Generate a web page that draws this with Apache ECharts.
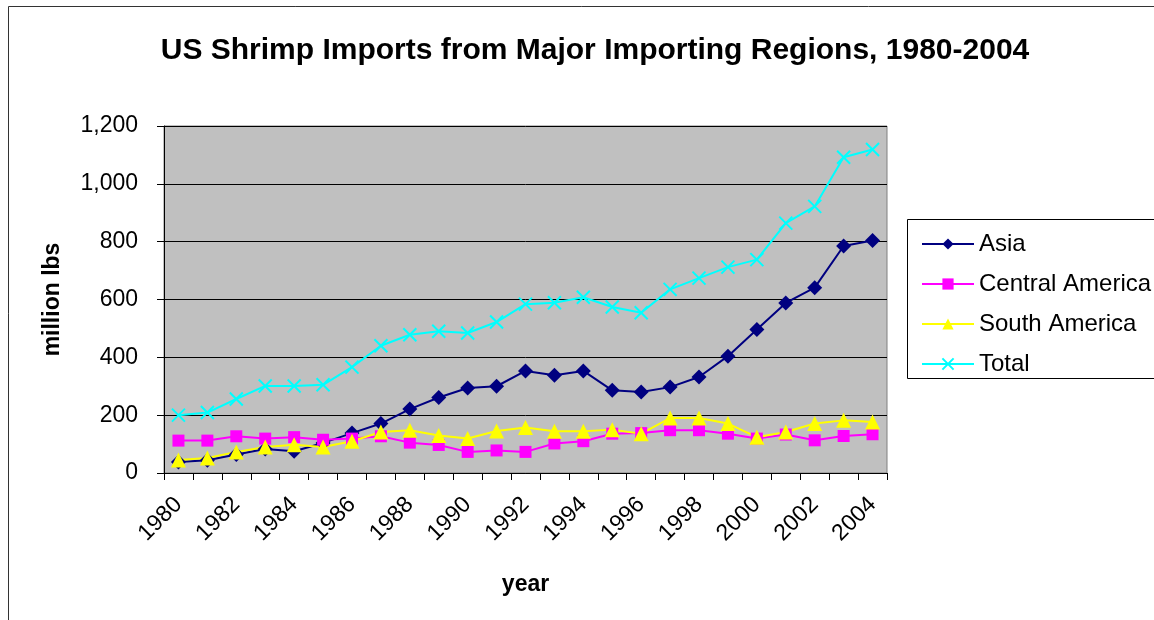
<!DOCTYPE html>
<html>
<head>
<meta charset="utf-8">
<script src="https://cdn.jsdelivr.net/npm/echarts@6/dist/echarts.min.js"></script>
<style>
html,body{margin:0;padding:0;background:#fff;}
#chart{width:1154px;height:620px;}
</style>
</head>
<body>
<div id="chart"></div>
<script>
const years = ['1980','1981','1982','1983','1984','1985','1986','1987','1988','1989','1990','1991','1992','1993','1994','1995','1996','1997','1998','1999','2000','2001','2002','2003','2004'];
const asia = [38,44,64,83,75,104,138,171,221,261,294,300,353,338,353,286,280,297,332,404,496,588,641,785,804];
const centralAmerica = [112,112,127,119,124,115,119,127,105,97,73,78,73,102,110,136,138,148,148,136,119,133,113,128,134];
const southAmerica = [45,52,73,90,98,90,110,142,148,130,119,145,157,144,144,150,136,190,190,171,124,142,171,182,176];
const total = [200,209,256,301,301,305,366,440,478,490,484,522,584,589,608,574,554,635,674,712,738,864,922,1092,1119];
const yTicks = [0,200,400,600,800,1000,1200];

const FONT = 'Liberation Sans, Arial, sans-serif';
const chart = echarts.init(document.getElementById('chart'), null, {renderer:'canvas'});
const crossPath = 'path://M0,0L10,10M10,0L0,10';

function mk(name, data, color, symbol, size, extra) {
  return Object.assign({
    name: name, type: 'line', data: data,
    symbol: symbol, symbolSize: size, showSymbol: true,
    lineStyle: {color: color, width: 2},
    itemStyle: {color: color, borderColor: color, borderWidth: 0, opacity: 1},
    emphasis: {disabled: true},
    animation: false
  }, extra || {});
}

chart.setOption({
  animation: false,
  backgroundColor: '#ffffff',
  title: {
    text: 'US Shrimp Imports from Major Importing Regions, 1980-2004',
    left: 590, top: 31, textAlign: 'center',
    textStyle: {fontFamily: FONT, fontWeight: 'bold', fontSize: 30, color: '#000'}
  },
  graphic: [
    {type: 'rect', shape: {x: 8.5, y: 6.5, width: 1300, height: 800}, style: {fill: 'none', stroke: '#333', lineWidth: 1}, silent: true, z: 100},
    {type: 'rect', shape: {x: 907.5, y: 219.5, width: 300, height: 159}, style: {fill: 'none', stroke: '#000', lineWidth: 1}, silent: true, z: 100}
  ],
  legend: {
    orient: 'vertical', left: 916, top: 227,
    itemWidth: 52, itemHeight: 14, itemGap: 16,
    textStyle: {fontFamily: FONT, fontSize: 24, color: '#000', lineHeight: 24},
    data: ['Asia','Central America','South America','Total']
  },
  grid: {
    left: 164, right: 267, top: 126, bottom: 147,
    show: true, backgroundColor: '#C0C0C0', borderColor: '#808080', borderWidth: 1,
    containLabel: false
  },
  xAxis: {
    type: 'category', data: years, boundaryGap: true,
    name: 'year', nameLocation: 'middle', nameGap: 100,
    nameTextStyle: {fontFamily: FONT, fontWeight: 'bold', fontSize: 23, color: '#000'},
    axisLine: {show: true, lineStyle: {color: '#000', width: 1}},
    axisTick: {show: true, interval: 0, length: 7, inside: false, alignWithLabel: false, lineStyle: {color: '#000'}},
    axisLabel: {interval: 1, rotate: 45, margin: 28, fontFamily: FONT, fontSize: 23, color: '#000'},
    splitLine: {show: false}
  },
  yAxis: {
    type: 'value', min: 0, max: 1200, interval: 200,
    name: 'million lbs', nameLocation: 'middle', nameGap: 100, nameRotate: 90,
    nameTextStyle: {fontFamily: FONT, fontWeight: 'bold', fontSize: 23, color: '#000'},
    axisLine: {show: true, lineStyle: {color: '#000', width: 1}},
    axisTick: {show: true, length: 7, inside: false, lineStyle: {color: '#000'}},
    axisLabel: {margin: 26, fontFamily: FONT, fontSize: 23, color: '#000',
      formatter: function (v) { return yTicks.indexOf(v) >= 0 ? v.toLocaleString('en-US') : ''; }},
    splitLine: {show: true, lineStyle: {color: '#000', width: 1}}
  },
  series: [
    mk('Asia', asia, '#000080', 'diamond', 15),
    mk('Central America', centralAmerica, '#FF00FF', 'rect', 12),
    mk('South America', southAmerica, '#FFFF00', 'triangle', 15),
    mk('Total', total, '#00FFFF', crossPath, 13, {itemStyle: {color: '#00FFFF', borderColor: '#00FFFF', borderWidth: 2}})
  ]
});
</script>
</body>
</html>
